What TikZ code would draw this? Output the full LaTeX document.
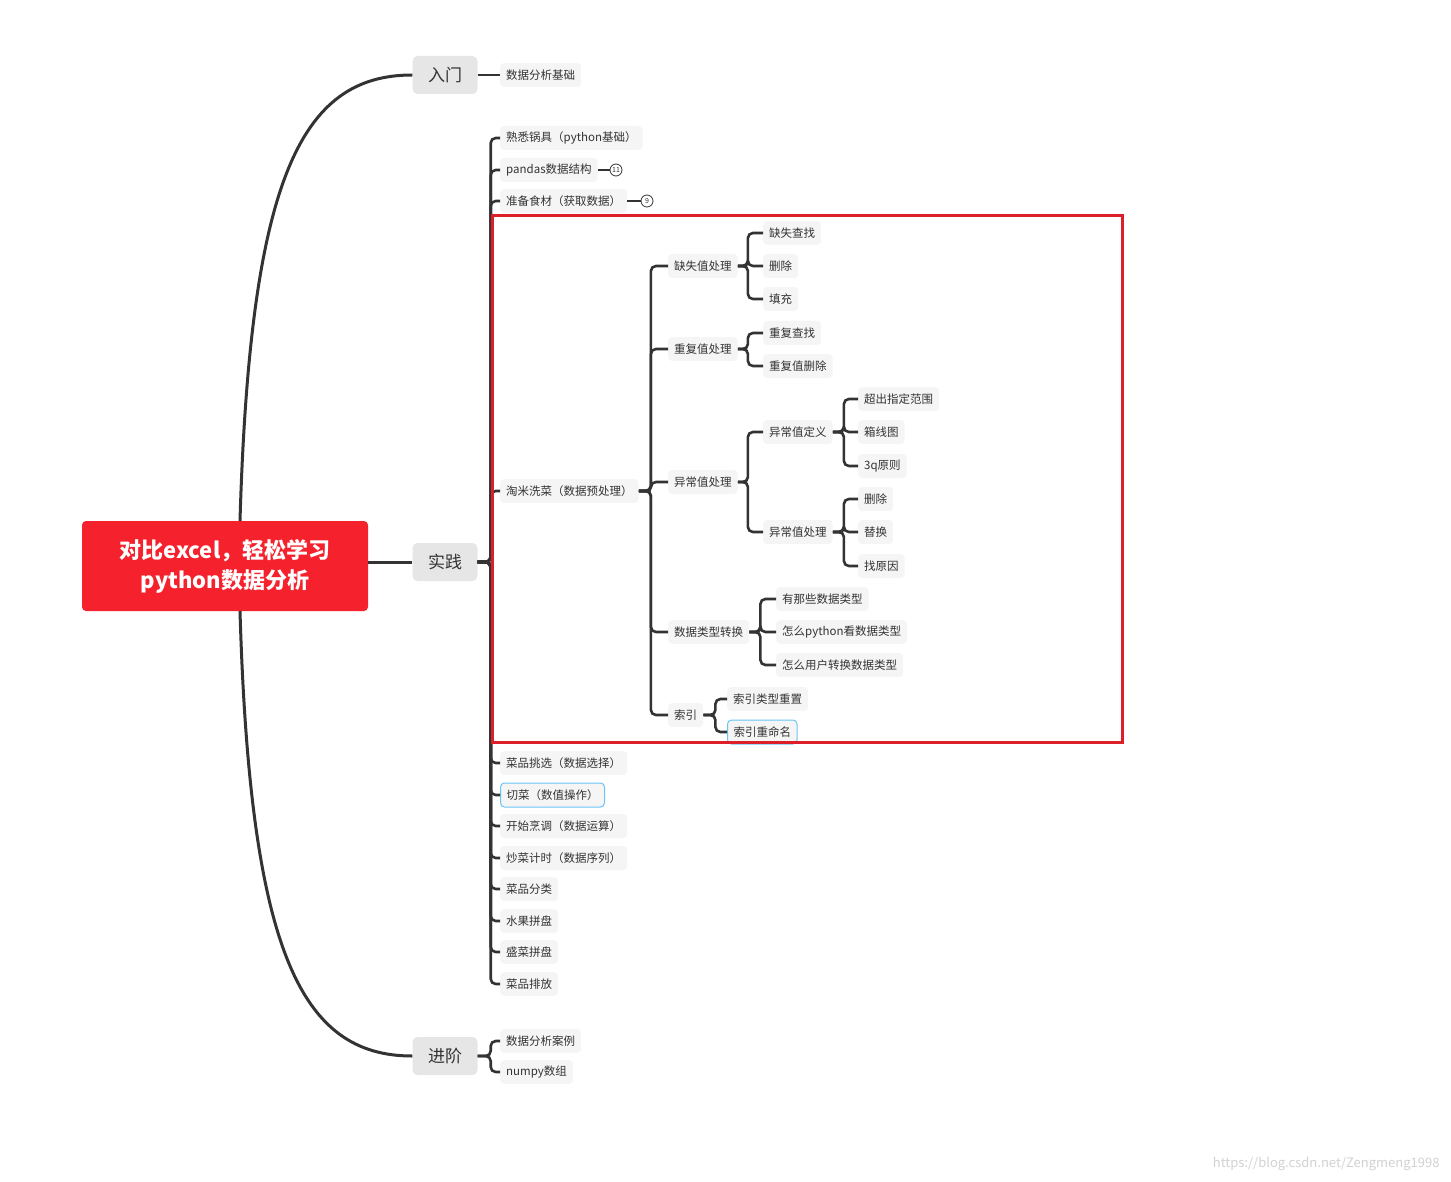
\documentclass[tikz,border=0pt]{standalone}
\usepackage{fontspec}
\setmainfont{Noto Sans CJK SC}
\begin{document}
\begin{tikzpicture}[x=1pt,y=-1pt,
  n/.style={anchor=west,fill=nodebg,rounded corners=4pt,inner xsep=6pt,minimum height=24pt,text=txt,font=\fontsize{11.5}{13}\selectfont},
  l1/.style={fill=l1bg,rounded corners=5pt,minimum width=65pt,minimum height=38pt,text=txt,font=\fontsize{17}{20}\selectfont},
  conn/.style={draw=lc,line width=2.6pt,rounded corners=5pt},
  big/.style={draw=lc,line width=3pt},
  sel/.style={draw=selb,line width=1pt}]
\definecolor{nodebg}{HTML}{F5F5F5}
\definecolor{l1bg}{HTML}{E6E6E6}
\definecolor{txt}{HTML}{333333}
\definecolor{lc}{HTML}{333333}
\definecolor{red1}{HTML}{F5222D}
\definecolor{selb}{HTML}{6CC4F5}
\useasboundingbox (0,0) rectangle (1451,1182);
\newcommand\brk[3]{\draw[conn] (#1.east) -- ++(#3,0) |- (#2.west);}

\node[fill=red1,rounded corners=4pt,minimum width=286pt,minimum height=90pt,text=white,align=center,font=\fontsize{22}{30}\selectfont\bfseries] (main) at (225,566) {对比excel，轻松学习\\python数据分析};
\node[l1] (rm) at (445,75) {入门};
\node[l1] (sj) at (445,562) {实践};
\node[l1] (jj) at (445,1056) {进阶};
\coordinate (mt) at (240,521);
\coordinate (mb) at (240,611);
\draw[big] (mt) .. controls (250,180) and (300,75) .. (rm.west);
\draw[big] (mb) .. controls (250,950) and (300,1056) .. (jj.west);
\draw[big] (main.east |- sj) -- (sj.west);

\node[n] (a0) at (500,75) {数据分析基础};
\draw[conn] (rm.east) -- (a0.west);

% 实践 children
\node[n] (b1) at (500,138) {熟悉锅具（python基础）};
\node[n] (b2) at (500,170) {pandas数据结构};
\node[n] (b3) at (500,201) {准备食材（获取数据）};
\node[n] (b4) at (500,491) {淘米洗菜（数据预处理）};
\node[n] (b5) at (500,763) {菜品挑选（数据选择）};
\node[n,sel] (b6) at (500,795) {切菜（数值操作）};
\node[n] (b7) at (500,826) {开始烹调（数据运算）};
\node[n] (b8) at (500,858) {炒菜计时（数据序列）};
\node[n] (b9) at (500,889) {菜品分类};
\node[n] (b10) at (500,921) {水果拼盘};
\node[n] (b11) at (500,952) {盛菜拼盘};
\node[n] (b12) at (500,984) {菜品排放};
\foreach \c in {b1,b2,b3,b4,b5,b6,b7,b8,b9,b10,b11,b12}{\brk{sj}{\c}{13}}
\node[circle,draw=lc,line width=0.8pt,inner sep=0.5pt,minimum size=12pt,text=txt,font=\fontsize{7}{8}\selectfont] (c11) at (616,170) {11};
\node[circle,draw=lc,line width=0.8pt,inner sep=0.5pt,minimum size=12pt,text=txt,font=\fontsize{7}{8}\selectfont] (c9) at (647,201) {9};
\draw[conn] (b2.east) -- (c11.west);
\draw[conn] (b3.east) -- (c9.west);

% 淘米洗菜
\node[n] (d1) at (668,266) {缺失值处理};
\node[n] (d2) at (668,349) {重复值处理};
\node[n] (d3) at (668,482) {异常值处理};
\node[n] (d4) at (668,632) {数据类型转换};
\node[n] (d5) at (668,715) {索引};
\foreach \c in {d1,d2,d3,d4,d5}{\brk{b4}{\c}{12}}

\node[n] (e1) at (763,233) {缺失查找};
\node[n] (e2) at (763,266) {删除};
\node[n] (e3) at (763,299) {填充};
\foreach \c in {e1,e2,e3}{\brk{d1}{\c}{10}}
\node[n] (f1) at (763,333) {重复查找};
\node[n] (f2) at (763,366) {重复值删除};
\foreach \c in {f1,f2}{\brk{d2}{\c}{10}}
\node[n] (g1) at (763,432) {异常值定义};
\node[n] (g2) at (763,532) {异常值处理};
\foreach \c in {g1,g2}{\brk{d3}{\c}{10}}
\node[n] (h1) at (858,399) {超出指定范围};
\node[n] (h2) at (858,432) {箱线图};
\node[n] (h3) at (858,466) {3q原则};
\foreach \c in {h1,h2,h3}{\brk{g1}{\c}{11}}
\node[n] (i1) at (858,499) {删除};
\node[n] (i2) at (858,532) {替换};
\node[n] (i3) at (858,566) {找原因};
\foreach \c in {i1,i2,i3}{\brk{g2}{\c}{11}}
\node[n] (j1) at (776,599) {有那些数据类型};
\node[n] (j2) at (776,632) {怎么python看数据类型};
\node[n] (j3) at (776,665) {怎么用户转换数据类型};
\foreach \c in {j1,j2,j3}{\brk{d4}{\c}{11}}
\node[n] (k1) at (727,699) {索引类型重置};
\node[n,sel] (k2) at (727,732) {索引重命名};
\foreach \c in {k1,k2}{\brk{d5}{\c}{12}}

% 进阶
\node[n] (m1) at (500,1041) {数据分析案例};
\node[n] (m2) at (500,1072) {numpy数组};
\foreach \c in {m1,m2}{\brk{jj}{\c}{13}}

\draw[draw=red1!90!black,line width=3pt] (492,216) rectangle (1122,742);
\node[anchor=east,text=black!18,font=\fontsize{13}{15}\selectfont] (wm) at (1443,1164) {https://blog.csdn.net/Zengmeng1998};
\end{tikzpicture}
\end{document}
